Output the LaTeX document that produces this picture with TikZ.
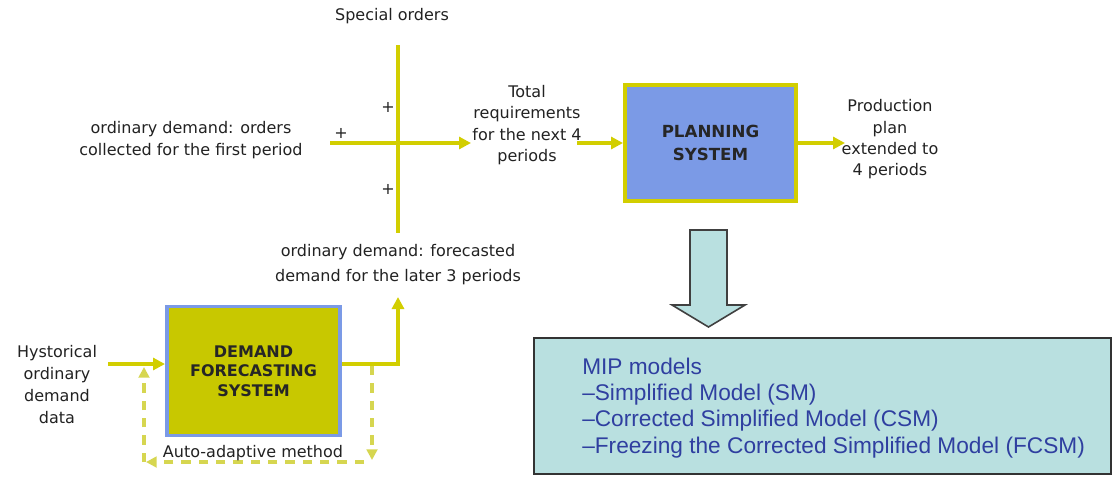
\documentclass[tikz,border=0pt]{standalone}
\usepackage{fontspec}
\setmainfont{DejaVu Sans}
\newfontfamily\mipfont{Liberation Sans}
\usetikzlibrary{arrows.meta}
\definecolor{yl}{HTML}{D2CE00}
\definecolor{yldash}{HTML}{D6D650}
\definecolor{planblue}{HTML}{7B9AE6}
\definecolor{demfill}{HTML}{C8C800}
\definecolor{mipfill}{HTML}{B9E0E0}
\definecolor{miptext}{HTML}{2F3FA0}
\definecolor{txt}{HTML}{222222}
\tikzset{
  flow/.style={draw=yl, line width=3pt, -{Triangle[length=9pt,width=9pt]}},
  flowline/.style={draw=yl, line width=3pt},
  fb/.style={draw=yldash, line width=2.4pt, dash pattern=on 7pt off 6pt, -{Triangle[length=8pt,width=8pt]}},
  lbl/.style={text=txt, font=\fontsize{12}{16}\selectfont, align=center, inner sep=1pt},
  planbox/.style={draw=yl, fill=planblue, line width=3pt, minimum width=128.25pt, minimum height=87pt,
     font=\bfseries\fontsize{12.5}{17}\selectfont, align=center, text=black!85},
  dembox/.style={draw=planblue, fill=demfill, line width=2.6pt, minimum width=130pt, minimum height=96.5pt,
     font=\bfseries\fontsize{12}{14.5}\selectfont, align=center, text=black!85},
  mipbox/.style={draw=black!80, fill=mipfill, line width=1.4pt, minimum width=432.75pt, minimum height=102pt},
  plus/.style={text=txt, font=\fontsize{12}{12}\selectfont, inner sep=0pt}
}
\begin{document}
\begin{tikzpicture}[x=0.75pt,y=-0.75pt]
\path[use as bounding box, fill=white] (0,0) rectangle (1120,483);

% top cross
\node[lbl] (spec) at (392,16) {Special orders};
\coordinate (vt) at (398,45);
\coordinate (vb) at (398,233);
\draw[flowline] (vt) -- (vb);
\node[lbl] (ord) at (191,140) {ordinary demand: orders\\collected for the first period};
\coordinate (hin) at (330,143);
\node[lbl] (tot) at (527,125) {Total\\requirements\\for the next 4\\periods};
\coordinate (hout) at (471,143);
\draw[flow] (hin) -- (hout);
\node[plus] (p1) at (388,107) {+};
\node[plus] (p2) at (341,133) {+};
\node[plus] (p3) at (388,189) {+};

% planning
\node[planbox] (plan) at (710.5,143) {PLANNING\\SYSTEM};
\coordinate (tin) at (577,143);
\draw[flow] (tin) -- (plan.west);
\node[lbl] (prod) at (890,139.5) {Production\\plan\\extended to\\4 periods};
\coordinate (pout) at (845,143);
\draw[flow] (plan.east) -- (pout);

% forecast label
\node[lbl, font=\fontsize{12}{18.5}\selectfont] (fc) at (398,264.5) {ordinary demand: forecasted\\demand for the later 3 periods};

% demand box
\node[dembox] (dem) at (253.5,371) {DEMAND\\FORECASTING\\SYSTEM};
\node[lbl, font=\fontsize{12}{16.5}\selectfont] (hist) at (57,385) {Hystorical\\ordinary\\demand\\data};
\coordinate (hs) at (108,364);
\coordinate (he) at (165,364);
\draw[flow] (hs) -- (he);
\coordinate (dout) at (342,364);
\coordinate (fctip) at (398,297);
\draw[flow] (dout) -| (fctip);

% feedback loop
\coordinate (fd1) at (372,366);
\coordinate (fd2) at (372,460);
\coordinate (fb1) at (364,462);
\coordinate (fb2) at (146,462);
\coordinate (fu1) at (144,462);
\coordinate (fu2) at (144,367);
\draw[fb] (fd1) -- (fd2);
\draw[fb] (fb1) -- (fb2);
\draw[fb] (fu1) -- (fu2);
\node[lbl] (auto) at (253,453) {Auto-adaptive method};

% big down arrow
\draw[draw=black!75, fill=mipfill, line width=1.2pt, line join=miter]
  (690,230) -- (727,230) -- (727,305) -- (745,305) -- (708.5,327) -- (672,305) -- (690,305) -- cycle;

% MIP box
\node[mipbox] (mip) at (822.5,406) {};
\node[anchor=west, align=left, text=miptext, font=\mipfont\fontsize{17}{19.6}\selectfont, inner sep=0pt]
  (miptxt) at (582,408) {MIP models\\–Simplified Model (SM)\\–Corrected Simplified Model (CSM)\\–Freezing the Corrected Simplified Model (FCSM)};
\end{tikzpicture}
\end{document}
